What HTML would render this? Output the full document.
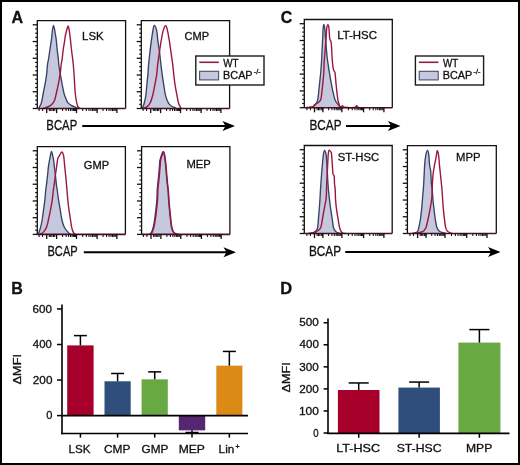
<!DOCTYPE html>
<html><head><meta charset="utf-8"><style>
html,body{margin:0;padding:0;background:#fff;}
svg{display:block;will-change:transform;}
text{font-family:"Liberation Sans", sans-serif;fill:#111;stroke:#111;stroke-width:0.3px;}
</style></head><body>
<svg width="520" height="465" viewBox="0 0 520 465">
<rect x="0" y="0" width="520" height="465" fill="#fff"/>
<path d="M38.50,108.50 C38.65,108.25 38.92,107.97 39.40,107.00 C39.88,106.03 40.75,105.03 41.40,102.70 C42.05,100.37 42.67,96.22 43.30,93.00 C43.93,89.78 44.63,86.62 45.20,83.40 C45.77,80.18 46.32,76.85 46.70,73.70 C47.08,70.55 47.18,67.00 47.50,64.50 C47.82,62.00 48.18,61.28 48.60,58.70 C49.02,56.12 49.52,52.22 50.00,49.00 C50.48,45.78 51.08,42.62 51.50,39.40 C51.92,36.18 52.15,32.05 52.50,29.70 C52.85,27.35 53.25,25.30 53.60,25.30 C53.95,25.30 54.30,28.17 54.60,29.70 C54.90,31.23 55.13,32.88 55.40,34.50 C55.67,36.12 55.92,36.98 56.20,39.40 C56.48,41.82 56.75,45.78 57.10,49.00 C57.45,52.22 58.02,56.12 58.30,58.70 C58.58,61.28 58.48,62.00 58.80,64.50 C59.12,67.00 59.67,70.55 60.20,73.70 C60.73,76.85 61.38,80.18 62.00,83.40 C62.62,86.62 63.30,90.58 63.90,93.00 C64.50,95.42 64.95,96.28 65.60,97.90 C66.25,99.52 66.77,101.42 67.80,102.70 C68.83,103.98 70.48,104.83 71.80,105.60 C73.12,106.37 74.50,106.82 75.70,107.30 C76.90,107.78 78.45,108.30 79.00,108.50 Z" fill="#c6c8dd" stroke="none"/>
<path d="M38.50,108.50 C38.65,108.25 38.92,107.97 39.40,107.00 C39.88,106.03 40.75,105.03 41.40,102.70 C42.05,100.37 42.67,96.22 43.30,93.00 C43.93,89.78 44.63,86.62 45.20,83.40 C45.77,80.18 46.32,76.85 46.70,73.70 C47.08,70.55 47.18,67.00 47.50,64.50 C47.82,62.00 48.18,61.28 48.60,58.70 C49.02,56.12 49.52,52.22 50.00,49.00 C50.48,45.78 51.08,42.62 51.50,39.40 C51.92,36.18 52.15,32.05 52.50,29.70 C52.85,27.35 53.25,25.30 53.60,25.30 C53.95,25.30 54.30,28.17 54.60,29.70 C54.90,31.23 55.13,32.88 55.40,34.50 C55.67,36.12 55.92,36.98 56.20,39.40 C56.48,41.82 56.75,45.78 57.10,49.00 C57.45,52.22 58.02,56.12 58.30,58.70 C58.58,61.28 58.48,62.00 58.80,64.50 C59.12,67.00 59.67,70.55 60.20,73.70 C60.73,76.85 61.38,80.18 62.00,83.40 C62.62,86.62 63.30,90.58 63.90,93.00 C64.50,95.42 64.95,96.28 65.60,97.90 C66.25,99.52 66.77,101.42 67.80,102.70 C68.83,103.98 70.48,104.83 71.80,105.60 C73.12,106.37 74.50,106.82 75.70,107.30 C76.90,107.78 78.45,108.30 79.00,108.50" fill="none" stroke="#364268" stroke-width="1.35" stroke-linejoin="round"/>
<path d="M43.00,108.50 C43.77,108.25 46.18,107.63 47.60,107.00 C49.02,106.37 50.37,105.73 51.50,104.70 C52.63,103.67 53.58,102.75 54.40,100.80 C55.22,98.85 55.72,95.90 56.40,93.00 C57.08,90.10 57.87,86.62 58.50,83.40 C59.13,80.18 59.75,76.85 60.20,73.70 C60.65,70.55 60.87,67.00 61.20,64.50 C61.53,62.00 61.85,61.28 62.20,58.70 C62.55,56.12 62.85,52.22 63.30,49.00 C63.75,45.78 64.62,41.33 64.90,39.40 C65.18,37.47 64.68,39.02 65.00,37.40 C65.32,35.78 66.27,31.60 66.80,29.70 C67.33,27.80 67.82,26.00 68.20,26.00 C68.58,26.00 68.73,27.47 69.10,29.70 C69.47,31.93 70.02,36.18 70.40,39.40 C70.78,42.62 71.03,45.78 71.40,49.00 C71.77,52.22 72.28,56.12 72.60,58.70 C72.92,61.28 73.07,62.00 73.30,64.50 C73.53,67.00 73.78,70.55 74.00,73.70 C74.22,76.85 74.40,80.18 74.60,83.40 C74.80,86.62 74.85,89.78 75.20,93.00 C75.55,96.22 76.22,100.37 76.70,102.70 C77.18,105.03 77.47,106.03 78.10,107.00 C78.73,107.97 80.10,108.25 80.50,108.50" fill="none" stroke="#9c1642" stroke-width="1.4" stroke-linejoin="round"/>
<path d="M37.3,108.5 V20.6 H125.6 V108.5" fill="none" stroke="#111" stroke-width="1.3"/>
<line x1="37.3" y1="108.5" x2="125.6" y2="108.5" stroke="#4a1024" stroke-width="1.6"/>
<line x1="32.699999999999996" y1="24.80" x2="37.3" y2="24.80" stroke="#111" stroke-width="1.3"/>
<line x1="35.099999999999994" y1="28.98" x2="37.3" y2="28.98" stroke="#111" stroke-width="1.1"/>
<line x1="35.099999999999994" y1="33.17" x2="37.3" y2="33.17" stroke="#111" stroke-width="1.1"/>
<line x1="35.099999999999994" y1="37.36" x2="37.3" y2="37.36" stroke="#111" stroke-width="1.1"/>
<line x1="32.699999999999996" y1="41.54" x2="37.3" y2="41.54" stroke="#111" stroke-width="1.3"/>
<line x1="35.099999999999994" y1="45.73" x2="37.3" y2="45.73" stroke="#111" stroke-width="1.1"/>
<line x1="35.099999999999994" y1="49.91" x2="37.3" y2="49.91" stroke="#111" stroke-width="1.1"/>
<line x1="35.099999999999994" y1="54.10" x2="37.3" y2="54.10" stroke="#111" stroke-width="1.1"/>
<line x1="32.699999999999996" y1="58.28" x2="37.3" y2="58.28" stroke="#111" stroke-width="1.3"/>
<line x1="35.099999999999994" y1="62.47" x2="37.3" y2="62.47" stroke="#111" stroke-width="1.1"/>
<line x1="35.099999999999994" y1="66.65" x2="37.3" y2="66.65" stroke="#111" stroke-width="1.1"/>
<line x1="35.099999999999994" y1="70.84" x2="37.3" y2="70.84" stroke="#111" stroke-width="1.1"/>
<line x1="32.699999999999996" y1="75.02" x2="37.3" y2="75.02" stroke="#111" stroke-width="1.3"/>
<line x1="35.099999999999994" y1="79.21" x2="37.3" y2="79.21" stroke="#111" stroke-width="1.1"/>
<line x1="35.099999999999994" y1="83.39" x2="37.3" y2="83.39" stroke="#111" stroke-width="1.1"/>
<line x1="35.099999999999994" y1="87.58" x2="37.3" y2="87.58" stroke="#111" stroke-width="1.1"/>
<line x1="32.699999999999996" y1="91.76" x2="37.3" y2="91.76" stroke="#111" stroke-width="1.3"/>
<line x1="35.099999999999994" y1="95.95" x2="37.3" y2="95.95" stroke="#111" stroke-width="1.1"/>
<line x1="35.099999999999994" y1="100.13" x2="37.3" y2="100.13" stroke="#111" stroke-width="1.1"/>
<line x1="35.099999999999994" y1="104.32" x2="37.3" y2="104.32" stroke="#111" stroke-width="1.1"/>
<line x1="32.699999999999996" y1="108.50" x2="37.3" y2="108.50" stroke="#111" stroke-width="1.3"/>
<line x1="46.70" y1="108.5" x2="46.70" y2="113.1" stroke="#111" stroke-width="1.3"/>
<line x1="56.60" y1="108.5" x2="56.60" y2="113.1" stroke="#111" stroke-width="1.3"/>
<line x1="76.50" y1="108.5" x2="76.50" y2="113.1" stroke="#111" stroke-width="1.3"/>
<line x1="97.10" y1="108.5" x2="97.10" y2="113.1" stroke="#111" stroke-width="1.3"/>
<line x1="116.90" y1="108.5" x2="116.90" y2="113.1" stroke="#111" stroke-width="1.3"/>
<line x1="39.10" y1="108.5" x2="39.10" y2="111.1" stroke="#111" stroke-width="1.05"/>
<line x1="42.60" y1="108.5" x2="42.60" y2="111.1" stroke="#111" stroke-width="1.05"/>
<line x1="49.30" y1="108.5" x2="49.30" y2="111.1" stroke="#111" stroke-width="1.05"/>
<line x1="50.70" y1="108.5" x2="50.70" y2="111.1" stroke="#111" stroke-width="1.05"/>
<line x1="52.00" y1="108.5" x2="52.00" y2="111.1" stroke="#111" stroke-width="1.05"/>
<line x1="53.50" y1="108.5" x2="53.50" y2="111.1" stroke="#111" stroke-width="1.05"/>
<line x1="54.80" y1="108.5" x2="54.80" y2="111.1" stroke="#111" stroke-width="1.05"/>
<line x1="62.59" y1="108.5" x2="62.59" y2="111.1" stroke="#111" stroke-width="1.05"/>
<line x1="66.09" y1="108.5" x2="66.09" y2="111.1" stroke="#111" stroke-width="1.05"/>
<line x1="68.58" y1="108.5" x2="68.58" y2="111.1" stroke="#111" stroke-width="1.05"/>
<line x1="70.51" y1="108.5" x2="70.51" y2="111.1" stroke="#111" stroke-width="1.05"/>
<line x1="72.09" y1="108.5" x2="72.09" y2="111.1" stroke="#111" stroke-width="1.05"/>
<line x1="73.42" y1="108.5" x2="73.42" y2="111.1" stroke="#111" stroke-width="1.05"/>
<line x1="74.57" y1="108.5" x2="74.57" y2="111.1" stroke="#111" stroke-width="1.05"/>
<line x1="75.59" y1="108.5" x2="75.59" y2="111.1" stroke="#111" stroke-width="1.05"/>
<line x1="82.70" y1="108.5" x2="82.70" y2="111.1" stroke="#111" stroke-width="1.05"/>
<line x1="86.33" y1="108.5" x2="86.33" y2="111.1" stroke="#111" stroke-width="1.05"/>
<line x1="88.90" y1="108.5" x2="88.90" y2="111.1" stroke="#111" stroke-width="1.05"/>
<line x1="90.90" y1="108.5" x2="90.90" y2="111.1" stroke="#111" stroke-width="1.05"/>
<line x1="92.53" y1="108.5" x2="92.53" y2="111.1" stroke="#111" stroke-width="1.05"/>
<line x1="93.91" y1="108.5" x2="93.91" y2="111.1" stroke="#111" stroke-width="1.05"/>
<line x1="95.10" y1="108.5" x2="95.10" y2="111.1" stroke="#111" stroke-width="1.05"/>
<line x1="96.16" y1="108.5" x2="96.16" y2="111.1" stroke="#111" stroke-width="1.05"/>
<line x1="103.06" y1="108.5" x2="103.06" y2="111.1" stroke="#111" stroke-width="1.05"/>
<line x1="106.55" y1="108.5" x2="106.55" y2="111.1" stroke="#111" stroke-width="1.05"/>
<line x1="109.02" y1="108.5" x2="109.02" y2="111.1" stroke="#111" stroke-width="1.05"/>
<line x1="110.94" y1="108.5" x2="110.94" y2="111.1" stroke="#111" stroke-width="1.05"/>
<line x1="112.51" y1="108.5" x2="112.51" y2="111.1" stroke="#111" stroke-width="1.05"/>
<line x1="113.83" y1="108.5" x2="113.83" y2="111.1" stroke="#111" stroke-width="1.05"/>
<line x1="114.98" y1="108.5" x2="114.98" y2="111.1" stroke="#111" stroke-width="1.05"/>
<line x1="115.99" y1="108.5" x2="115.99" y2="111.1" stroke="#111" stroke-width="1.05"/>
<text x="82.06" y="40.29" font-size="11.31" textLength="21.59" lengthAdjust="spacingAndGlyphs">LSK</text>
<path d="M141.80,108.50 C141.93,108.32 142.20,108.28 142.60,107.40 C143.00,106.52 143.67,105.15 144.20,103.20 C144.73,101.25 145.37,98.70 145.80,95.70 C146.23,92.70 146.45,88.72 146.80,85.20 C147.15,81.68 147.60,78.07 147.90,74.60 C148.20,71.13 148.25,68.22 148.60,64.40 C148.95,60.58 149.55,55.57 150.00,51.70 C150.45,47.83 150.82,44.72 151.30,41.20 C151.78,37.68 152.42,33.25 152.90,30.60 C153.38,27.95 153.57,25.30 154.20,25.30 C154.83,25.30 156.08,27.95 156.70,30.60 C157.32,33.25 157.43,37.68 157.90,41.20 C158.37,44.72 159.00,47.83 159.50,51.70 C160.00,55.57 160.45,60.58 160.90,64.40 C161.35,68.22 161.72,71.13 162.20,74.60 C162.68,78.07 163.23,81.68 163.80,85.20 C164.37,88.72 164.82,92.70 165.60,95.70 C166.38,98.70 167.48,101.43 168.50,103.20 C169.52,104.97 170.63,105.57 171.70,106.30 C172.77,107.03 174.18,107.23 174.90,107.60 C175.62,107.97 175.82,108.35 176.00,108.50 Z" fill="#c6c8dd" stroke="none"/>
<path d="M141.80,108.50 C141.93,108.32 142.20,108.28 142.60,107.40 C143.00,106.52 143.67,105.15 144.20,103.20 C144.73,101.25 145.37,98.70 145.80,95.70 C146.23,92.70 146.45,88.72 146.80,85.20 C147.15,81.68 147.60,78.07 147.90,74.60 C148.20,71.13 148.25,68.22 148.60,64.40 C148.95,60.58 149.55,55.57 150.00,51.70 C150.45,47.83 150.82,44.72 151.30,41.20 C151.78,37.68 152.42,33.25 152.90,30.60 C153.38,27.95 153.57,25.30 154.20,25.30 C154.83,25.30 156.08,27.95 156.70,30.60 C157.32,33.25 157.43,37.68 157.90,41.20 C158.37,44.72 159.00,47.83 159.50,51.70 C160.00,55.57 160.45,60.58 160.90,64.40 C161.35,68.22 161.72,71.13 162.20,74.60 C162.68,78.07 163.23,81.68 163.80,85.20 C164.37,88.72 164.82,92.70 165.60,95.70 C166.38,98.70 167.48,101.43 168.50,103.20 C169.52,104.97 170.63,105.57 171.70,106.30 C172.77,107.03 174.18,107.23 174.90,107.60 C175.62,107.97 175.82,108.35 176.00,108.50" fill="none" stroke="#364268" stroke-width="1.35" stroke-linejoin="round"/>
<path d="M143.00,108.50 C143.63,108.23 145.63,107.78 146.80,106.90 C147.97,106.02 149.03,105.07 150.00,103.20 C150.97,101.33 151.80,98.70 152.60,95.70 C153.40,92.70 154.12,88.72 154.80,85.20 C155.48,81.68 156.22,78.07 156.70,74.60 C157.18,71.13 157.23,68.22 157.70,64.40 C158.17,60.58 158.93,55.57 159.50,51.70 C160.07,47.83 160.48,44.72 161.10,41.20 C161.72,37.68 162.43,33.17 163.20,30.60 C163.97,28.03 164.98,25.80 165.70,25.80 C166.42,25.80 166.88,28.03 167.50,30.60 C168.12,33.17 168.83,37.68 169.40,41.20 C169.97,44.72 170.35,47.83 170.90,51.70 C171.45,55.57 172.22,60.58 172.70,64.40 C173.18,68.22 173.40,71.13 173.80,74.60 C174.20,78.07 174.57,81.68 175.10,85.20 C175.63,88.72 176.42,92.70 177.00,95.70 C177.58,98.70 178.07,101.33 178.60,103.20 C179.13,105.07 179.77,106.02 180.20,106.90 C180.63,107.78 181.03,108.23 181.20,108.50" fill="none" stroke="#9c1642" stroke-width="1.4" stroke-linejoin="round"/>
<path d="M141.3,108.5 V20.6 H229.6 V108.5" fill="none" stroke="#111" stroke-width="1.3"/>
<line x1="141.3" y1="108.5" x2="229.6" y2="108.5" stroke="#4a1024" stroke-width="1.6"/>
<line x1="136.70000000000002" y1="24.80" x2="141.3" y2="24.80" stroke="#111" stroke-width="1.3"/>
<line x1="139.10000000000002" y1="28.98" x2="141.3" y2="28.98" stroke="#111" stroke-width="1.1"/>
<line x1="139.10000000000002" y1="33.17" x2="141.3" y2="33.17" stroke="#111" stroke-width="1.1"/>
<line x1="139.10000000000002" y1="37.36" x2="141.3" y2="37.36" stroke="#111" stroke-width="1.1"/>
<line x1="136.70000000000002" y1="41.54" x2="141.3" y2="41.54" stroke="#111" stroke-width="1.3"/>
<line x1="139.10000000000002" y1="45.73" x2="141.3" y2="45.73" stroke="#111" stroke-width="1.1"/>
<line x1="139.10000000000002" y1="49.91" x2="141.3" y2="49.91" stroke="#111" stroke-width="1.1"/>
<line x1="139.10000000000002" y1="54.10" x2="141.3" y2="54.10" stroke="#111" stroke-width="1.1"/>
<line x1="136.70000000000002" y1="58.28" x2="141.3" y2="58.28" stroke="#111" stroke-width="1.3"/>
<line x1="139.10000000000002" y1="62.47" x2="141.3" y2="62.47" stroke="#111" stroke-width="1.1"/>
<line x1="139.10000000000002" y1="66.65" x2="141.3" y2="66.65" stroke="#111" stroke-width="1.1"/>
<line x1="139.10000000000002" y1="70.84" x2="141.3" y2="70.84" stroke="#111" stroke-width="1.1"/>
<line x1="136.70000000000002" y1="75.02" x2="141.3" y2="75.02" stroke="#111" stroke-width="1.3"/>
<line x1="139.10000000000002" y1="79.21" x2="141.3" y2="79.21" stroke="#111" stroke-width="1.1"/>
<line x1="139.10000000000002" y1="83.39" x2="141.3" y2="83.39" stroke="#111" stroke-width="1.1"/>
<line x1="139.10000000000002" y1="87.58" x2="141.3" y2="87.58" stroke="#111" stroke-width="1.1"/>
<line x1="136.70000000000002" y1="91.76" x2="141.3" y2="91.76" stroke="#111" stroke-width="1.3"/>
<line x1="139.10000000000002" y1="95.95" x2="141.3" y2="95.95" stroke="#111" stroke-width="1.1"/>
<line x1="139.10000000000002" y1="100.13" x2="141.3" y2="100.13" stroke="#111" stroke-width="1.1"/>
<line x1="139.10000000000002" y1="104.32" x2="141.3" y2="104.32" stroke="#111" stroke-width="1.1"/>
<line x1="136.70000000000002" y1="108.50" x2="141.3" y2="108.50" stroke="#111" stroke-width="1.3"/>
<line x1="150.70" y1="108.5" x2="150.70" y2="113.1" stroke="#111" stroke-width="1.3"/>
<line x1="160.60" y1="108.5" x2="160.60" y2="113.1" stroke="#111" stroke-width="1.3"/>
<line x1="180.50" y1="108.5" x2="180.50" y2="113.1" stroke="#111" stroke-width="1.3"/>
<line x1="201.10" y1="108.5" x2="201.10" y2="113.1" stroke="#111" stroke-width="1.3"/>
<line x1="220.90" y1="108.5" x2="220.90" y2="113.1" stroke="#111" stroke-width="1.3"/>
<line x1="143.10" y1="108.5" x2="143.10" y2="111.1" stroke="#111" stroke-width="1.05"/>
<line x1="146.60" y1="108.5" x2="146.60" y2="111.1" stroke="#111" stroke-width="1.05"/>
<line x1="153.30" y1="108.5" x2="153.30" y2="111.1" stroke="#111" stroke-width="1.05"/>
<line x1="154.70" y1="108.5" x2="154.70" y2="111.1" stroke="#111" stroke-width="1.05"/>
<line x1="156.00" y1="108.5" x2="156.00" y2="111.1" stroke="#111" stroke-width="1.05"/>
<line x1="157.50" y1="108.5" x2="157.50" y2="111.1" stroke="#111" stroke-width="1.05"/>
<line x1="158.80" y1="108.5" x2="158.80" y2="111.1" stroke="#111" stroke-width="1.05"/>
<line x1="166.59" y1="108.5" x2="166.59" y2="111.1" stroke="#111" stroke-width="1.05"/>
<line x1="170.09" y1="108.5" x2="170.09" y2="111.1" stroke="#111" stroke-width="1.05"/>
<line x1="172.58" y1="108.5" x2="172.58" y2="111.1" stroke="#111" stroke-width="1.05"/>
<line x1="174.51" y1="108.5" x2="174.51" y2="111.1" stroke="#111" stroke-width="1.05"/>
<line x1="176.09" y1="108.5" x2="176.09" y2="111.1" stroke="#111" stroke-width="1.05"/>
<line x1="177.42" y1="108.5" x2="177.42" y2="111.1" stroke="#111" stroke-width="1.05"/>
<line x1="178.57" y1="108.5" x2="178.57" y2="111.1" stroke="#111" stroke-width="1.05"/>
<line x1="179.59" y1="108.5" x2="179.59" y2="111.1" stroke="#111" stroke-width="1.05"/>
<line x1="186.70" y1="108.5" x2="186.70" y2="111.1" stroke="#111" stroke-width="1.05"/>
<line x1="190.33" y1="108.5" x2="190.33" y2="111.1" stroke="#111" stroke-width="1.05"/>
<line x1="192.90" y1="108.5" x2="192.90" y2="111.1" stroke="#111" stroke-width="1.05"/>
<line x1="194.90" y1="108.5" x2="194.90" y2="111.1" stroke="#111" stroke-width="1.05"/>
<line x1="196.53" y1="108.5" x2="196.53" y2="111.1" stroke="#111" stroke-width="1.05"/>
<line x1="197.91" y1="108.5" x2="197.91" y2="111.1" stroke="#111" stroke-width="1.05"/>
<line x1="199.10" y1="108.5" x2="199.10" y2="111.1" stroke="#111" stroke-width="1.05"/>
<line x1="200.16" y1="108.5" x2="200.16" y2="111.1" stroke="#111" stroke-width="1.05"/>
<line x1="207.06" y1="108.5" x2="207.06" y2="111.1" stroke="#111" stroke-width="1.05"/>
<line x1="210.55" y1="108.5" x2="210.55" y2="111.1" stroke="#111" stroke-width="1.05"/>
<line x1="213.02" y1="108.5" x2="213.02" y2="111.1" stroke="#111" stroke-width="1.05"/>
<line x1="214.94" y1="108.5" x2="214.94" y2="111.1" stroke="#111" stroke-width="1.05"/>
<line x1="216.51" y1="108.5" x2="216.51" y2="111.1" stroke="#111" stroke-width="1.05"/>
<line x1="217.83" y1="108.5" x2="217.83" y2="111.1" stroke="#111" stroke-width="1.05"/>
<line x1="218.98" y1="108.5" x2="218.98" y2="111.1" stroke="#111" stroke-width="1.05"/>
<line x1="219.99" y1="108.5" x2="219.99" y2="111.1" stroke="#111" stroke-width="1.05"/>
<text x="184.55" y="40.29" font-size="11.31" textLength="24.53" lengthAdjust="spacingAndGlyphs">CMP</text>
<path d="M38.00,234.40 C38.15,234.10 38.45,233.87 38.90,232.60 C39.35,231.33 40.13,229.07 40.70,226.80 C41.27,224.53 41.82,221.90 42.30,219.00 C42.78,216.10 43.17,212.62 43.60,209.40 C44.03,206.18 44.55,202.85 44.90,199.70 C45.25,196.55 45.43,193.00 45.70,190.50 C45.97,188.00 46.18,187.28 46.50,184.70 C46.82,182.12 47.25,178.22 47.60,175.00 C47.95,171.78 48.13,168.62 48.60,165.40 C49.07,162.18 49.92,158.05 50.40,155.70 C50.88,153.35 51.12,151.30 51.50,151.30 C51.88,151.30 52.33,154.17 52.70,155.70 C53.07,157.23 53.45,158.88 53.70,160.50 C53.95,162.12 53.92,162.98 54.20,165.40 C54.48,167.82 55.03,171.78 55.40,175.00 C55.77,178.22 56.08,182.12 56.40,184.70 C56.72,187.28 56.95,188.00 57.30,190.50 C57.65,193.00 58.02,196.55 58.50,199.70 C58.98,202.85 59.67,206.18 60.20,209.40 C60.73,212.62 61.05,216.10 61.70,219.00 C62.35,221.90 63.13,224.70 64.10,226.80 C65.07,228.90 66.43,230.33 67.50,231.60 C68.57,232.87 70.00,233.93 70.50,234.40 Z" fill="#c6c8dd" stroke="none"/>
<path d="M38.00,234.40 C38.15,234.10 38.45,233.87 38.90,232.60 C39.35,231.33 40.13,229.07 40.70,226.80 C41.27,224.53 41.82,221.90 42.30,219.00 C42.78,216.10 43.17,212.62 43.60,209.40 C44.03,206.18 44.55,202.85 44.90,199.70 C45.25,196.55 45.43,193.00 45.70,190.50 C45.97,188.00 46.18,187.28 46.50,184.70 C46.82,182.12 47.25,178.22 47.60,175.00 C47.95,171.78 48.13,168.62 48.60,165.40 C49.07,162.18 49.92,158.05 50.40,155.70 C50.88,153.35 51.12,151.30 51.50,151.30 C51.88,151.30 52.33,154.17 52.70,155.70 C53.07,157.23 53.45,158.88 53.70,160.50 C53.95,162.12 53.92,162.98 54.20,165.40 C54.48,167.82 55.03,171.78 55.40,175.00 C55.77,178.22 56.08,182.12 56.40,184.70 C56.72,187.28 56.95,188.00 57.30,190.50 C57.65,193.00 58.02,196.55 58.50,199.70 C58.98,202.85 59.67,206.18 60.20,209.40 C60.73,212.62 61.05,216.10 61.70,219.00 C62.35,221.90 63.13,224.70 64.10,226.80 C65.07,228.90 66.43,230.33 67.50,231.60 C68.57,232.87 70.00,233.93 70.50,234.40" fill="none" stroke="#364268" stroke-width="1.35" stroke-linejoin="round"/>
<path d="M40.00,234.40 C40.63,233.93 42.68,232.87 43.80,231.60 C44.92,230.33 45.90,228.90 46.70,226.80 C47.50,224.70 47.95,221.90 48.60,219.00 C49.25,216.10 49.98,212.62 50.60,209.40 C51.22,206.18 51.85,202.85 52.30,199.70 C52.75,196.55 52.98,193.00 53.30,190.50 C53.62,188.00 53.85,187.28 54.20,184.70 C54.55,182.12 54.97,178.22 55.40,175.00 C55.83,171.78 56.40,168.13 56.80,165.40 C57.20,162.67 57.35,160.22 57.80,158.60 C58.25,156.98 58.85,156.80 59.50,155.70 C60.15,154.60 61.02,152.00 61.70,152.00 C62.38,152.00 63.12,153.47 63.60,155.70 C64.08,157.93 64.27,162.18 64.60,165.40 C64.93,168.62 65.28,171.78 65.60,175.00 C65.92,178.22 66.27,182.12 66.50,184.70 C66.73,187.28 66.78,188.00 67.00,190.50 C67.22,193.00 67.48,196.55 67.80,199.70 C68.12,202.85 68.47,206.18 68.90,209.40 C69.33,212.62 69.95,216.10 70.40,219.00 C70.85,221.90 71.17,224.70 71.60,226.80 C72.03,228.90 72.43,230.33 73.00,231.60 C73.57,232.87 74.67,233.93 75.00,234.40" fill="none" stroke="#9c1642" stroke-width="1.4" stroke-linejoin="round"/>
<path d="M37.3,234.4 V146.6 H125.4 V234.4" fill="none" stroke="#111" stroke-width="1.3"/>
<line x1="37.3" y1="234.4" x2="125.4" y2="234.4" stroke="#4a1024" stroke-width="1.6"/>
<line x1="32.699999999999996" y1="150.80" x2="37.3" y2="150.80" stroke="#111" stroke-width="1.3"/>
<line x1="35.099999999999994" y1="154.98" x2="37.3" y2="154.98" stroke="#111" stroke-width="1.1"/>
<line x1="35.099999999999994" y1="159.16" x2="37.3" y2="159.16" stroke="#111" stroke-width="1.1"/>
<line x1="35.099999999999994" y1="163.34" x2="37.3" y2="163.34" stroke="#111" stroke-width="1.1"/>
<line x1="32.699999999999996" y1="167.52" x2="37.3" y2="167.52" stroke="#111" stroke-width="1.3"/>
<line x1="35.099999999999994" y1="171.70" x2="37.3" y2="171.70" stroke="#111" stroke-width="1.1"/>
<line x1="35.099999999999994" y1="175.88" x2="37.3" y2="175.88" stroke="#111" stroke-width="1.1"/>
<line x1="35.099999999999994" y1="180.06" x2="37.3" y2="180.06" stroke="#111" stroke-width="1.1"/>
<line x1="32.699999999999996" y1="184.24" x2="37.3" y2="184.24" stroke="#111" stroke-width="1.3"/>
<line x1="35.099999999999994" y1="188.42" x2="37.3" y2="188.42" stroke="#111" stroke-width="1.1"/>
<line x1="35.099999999999994" y1="192.60" x2="37.3" y2="192.60" stroke="#111" stroke-width="1.1"/>
<line x1="35.099999999999994" y1="196.78" x2="37.3" y2="196.78" stroke="#111" stroke-width="1.1"/>
<line x1="32.699999999999996" y1="200.96" x2="37.3" y2="200.96" stroke="#111" stroke-width="1.3"/>
<line x1="35.099999999999994" y1="205.14" x2="37.3" y2="205.14" stroke="#111" stroke-width="1.1"/>
<line x1="35.099999999999994" y1="209.32" x2="37.3" y2="209.32" stroke="#111" stroke-width="1.1"/>
<line x1="35.099999999999994" y1="213.50" x2="37.3" y2="213.50" stroke="#111" stroke-width="1.1"/>
<line x1="32.699999999999996" y1="217.68" x2="37.3" y2="217.68" stroke="#111" stroke-width="1.3"/>
<line x1="35.099999999999994" y1="221.86" x2="37.3" y2="221.86" stroke="#111" stroke-width="1.1"/>
<line x1="35.099999999999994" y1="226.04" x2="37.3" y2="226.04" stroke="#111" stroke-width="1.1"/>
<line x1="35.099999999999994" y1="230.22" x2="37.3" y2="230.22" stroke="#111" stroke-width="1.1"/>
<line x1="32.699999999999996" y1="234.40" x2="37.3" y2="234.40" stroke="#111" stroke-width="1.3"/>
<line x1="46.70" y1="234.4" x2="46.70" y2="239.0" stroke="#111" stroke-width="1.3"/>
<line x1="56.60" y1="234.4" x2="56.60" y2="239.0" stroke="#111" stroke-width="1.3"/>
<line x1="76.50" y1="234.4" x2="76.50" y2="239.0" stroke="#111" stroke-width="1.3"/>
<line x1="97.10" y1="234.4" x2="97.10" y2="239.0" stroke="#111" stroke-width="1.3"/>
<line x1="116.90" y1="234.4" x2="116.90" y2="239.0" stroke="#111" stroke-width="1.3"/>
<line x1="39.10" y1="234.4" x2="39.10" y2="237.0" stroke="#111" stroke-width="1.05"/>
<line x1="42.60" y1="234.4" x2="42.60" y2="237.0" stroke="#111" stroke-width="1.05"/>
<line x1="49.30" y1="234.4" x2="49.30" y2="237.0" stroke="#111" stroke-width="1.05"/>
<line x1="50.70" y1="234.4" x2="50.70" y2="237.0" stroke="#111" stroke-width="1.05"/>
<line x1="52.00" y1="234.4" x2="52.00" y2="237.0" stroke="#111" stroke-width="1.05"/>
<line x1="53.50" y1="234.4" x2="53.50" y2="237.0" stroke="#111" stroke-width="1.05"/>
<line x1="54.80" y1="234.4" x2="54.80" y2="237.0" stroke="#111" stroke-width="1.05"/>
<line x1="62.59" y1="234.4" x2="62.59" y2="237.0" stroke="#111" stroke-width="1.05"/>
<line x1="66.09" y1="234.4" x2="66.09" y2="237.0" stroke="#111" stroke-width="1.05"/>
<line x1="68.58" y1="234.4" x2="68.58" y2="237.0" stroke="#111" stroke-width="1.05"/>
<line x1="70.51" y1="234.4" x2="70.51" y2="237.0" stroke="#111" stroke-width="1.05"/>
<line x1="72.09" y1="234.4" x2="72.09" y2="237.0" stroke="#111" stroke-width="1.05"/>
<line x1="73.42" y1="234.4" x2="73.42" y2="237.0" stroke="#111" stroke-width="1.05"/>
<line x1="74.57" y1="234.4" x2="74.57" y2="237.0" stroke="#111" stroke-width="1.05"/>
<line x1="75.59" y1="234.4" x2="75.59" y2="237.0" stroke="#111" stroke-width="1.05"/>
<line x1="82.70" y1="234.4" x2="82.70" y2="237.0" stroke="#111" stroke-width="1.05"/>
<line x1="86.33" y1="234.4" x2="86.33" y2="237.0" stroke="#111" stroke-width="1.05"/>
<line x1="88.90" y1="234.4" x2="88.90" y2="237.0" stroke="#111" stroke-width="1.05"/>
<line x1="90.90" y1="234.4" x2="90.90" y2="237.0" stroke="#111" stroke-width="1.05"/>
<line x1="92.53" y1="234.4" x2="92.53" y2="237.0" stroke="#111" stroke-width="1.05"/>
<line x1="93.91" y1="234.4" x2="93.91" y2="237.0" stroke="#111" stroke-width="1.05"/>
<line x1="95.10" y1="234.4" x2="95.10" y2="237.0" stroke="#111" stroke-width="1.05"/>
<line x1="96.16" y1="234.4" x2="96.16" y2="237.0" stroke="#111" stroke-width="1.05"/>
<line x1="103.06" y1="234.4" x2="103.06" y2="237.0" stroke="#111" stroke-width="1.05"/>
<line x1="106.55" y1="234.4" x2="106.55" y2="237.0" stroke="#111" stroke-width="1.05"/>
<line x1="109.02" y1="234.4" x2="109.02" y2="237.0" stroke="#111" stroke-width="1.05"/>
<line x1="110.94" y1="234.4" x2="110.94" y2="237.0" stroke="#111" stroke-width="1.05"/>
<line x1="112.51" y1="234.4" x2="112.51" y2="237.0" stroke="#111" stroke-width="1.05"/>
<line x1="113.83" y1="234.4" x2="113.83" y2="237.0" stroke="#111" stroke-width="1.05"/>
<line x1="114.98" y1="234.4" x2="114.98" y2="237.0" stroke="#111" stroke-width="1.05"/>
<line x1="115.99" y1="234.4" x2="115.99" y2="237.0" stroke="#111" stroke-width="1.05"/>
<text x="83.85" y="168.59" font-size="10.74" textLength="25.24" lengthAdjust="spacingAndGlyphs">GMP</text>
<path d="M149.50,234.40 C149.83,234.03 150.87,233.47 151.50,232.20 C152.13,230.93 152.77,229.00 153.30,226.80 C153.83,224.60 154.27,221.90 154.70,219.00 C155.13,216.10 155.53,212.62 155.90,209.40 C156.27,206.18 156.68,202.85 156.90,199.70 C157.12,196.55 157.07,193.00 157.20,190.50 C157.33,188.00 157.45,187.28 157.70,184.70 C157.95,182.12 158.40,178.22 158.70,175.00 C159.00,171.78 159.30,167.82 159.50,165.40 C159.70,162.98 159.60,162.12 159.90,160.50 C160.20,158.88 160.78,157.18 161.30,155.70 C161.82,154.22 162.48,151.60 163.00,151.60 C163.52,151.60 163.97,153.40 164.40,155.70 C164.83,158.00 165.27,162.18 165.60,165.40 C165.93,168.62 166.12,171.78 166.40,175.00 C166.68,178.22 167.03,182.12 167.30,184.70 C167.57,187.28 167.78,188.00 168.00,190.50 C168.22,193.00 168.37,196.55 168.60,199.70 C168.83,202.85 169.10,206.18 169.40,209.40 C169.70,212.62 170.07,216.10 170.40,219.00 C170.73,221.90 170.90,224.57 171.40,226.80 C171.90,229.03 172.38,231.13 173.40,232.40 C174.42,233.67 176.82,234.07 177.50,234.40 Z" fill="#c6c8dd" stroke="none"/>
<path d="M149.50,234.40 C149.83,234.03 150.87,233.47 151.50,232.20 C152.13,230.93 152.77,229.00 153.30,226.80 C153.83,224.60 154.27,221.90 154.70,219.00 C155.13,216.10 155.53,212.62 155.90,209.40 C156.27,206.18 156.68,202.85 156.90,199.70 C157.12,196.55 157.07,193.00 157.20,190.50 C157.33,188.00 157.45,187.28 157.70,184.70 C157.95,182.12 158.40,178.22 158.70,175.00 C159.00,171.78 159.30,167.82 159.50,165.40 C159.70,162.98 159.60,162.12 159.90,160.50 C160.20,158.88 160.78,157.18 161.30,155.70 C161.82,154.22 162.48,151.60 163.00,151.60 C163.52,151.60 163.97,153.40 164.40,155.70 C164.83,158.00 165.27,162.18 165.60,165.40 C165.93,168.62 166.12,171.78 166.40,175.00 C166.68,178.22 167.03,182.12 167.30,184.70 C167.57,187.28 167.78,188.00 168.00,190.50 C168.22,193.00 168.37,196.55 168.60,199.70 C168.83,202.85 169.10,206.18 169.40,209.40 C169.70,212.62 170.07,216.10 170.40,219.00 C170.73,221.90 170.90,224.57 171.40,226.80 C171.90,229.03 172.38,231.13 173.40,232.40 C174.42,233.67 176.82,234.07 177.50,234.40" fill="none" stroke="#364268" stroke-width="1.35" stroke-linejoin="round"/>
<path d="M150.00,234.40 C150.37,234.03 151.53,233.47 152.20,232.20 C152.87,230.93 153.47,229.00 154.00,226.80 C154.53,224.60 154.97,221.90 155.40,219.00 C155.83,216.10 156.23,212.62 156.60,209.40 C156.97,206.18 157.38,202.85 157.60,199.70 C157.82,196.55 157.77,193.00 157.90,190.50 C158.03,188.00 158.15,187.28 158.40,184.70 C158.65,182.12 159.10,178.22 159.40,175.00 C159.70,171.78 160.00,167.82 160.20,165.40 C160.40,162.98 160.30,162.12 160.60,160.50 C160.90,158.88 161.52,157.15 162.00,155.70 C162.48,154.25 163.03,151.80 163.50,151.80 C163.97,151.80 164.38,153.43 164.80,155.70 C165.22,157.97 165.67,162.18 166.00,165.40 C166.33,168.62 166.52,171.78 166.80,175.00 C167.08,178.22 167.43,182.12 167.70,184.70 C167.97,187.28 168.18,188.00 168.40,190.50 C168.62,193.00 168.77,196.55 169.00,199.70 C169.23,202.85 169.50,206.18 169.80,209.40 C170.10,212.62 170.47,216.10 170.80,219.00 C171.13,221.90 171.30,224.57 171.80,226.80 C172.30,229.03 172.77,231.13 173.80,232.40 C174.83,233.67 177.30,234.07 178.00,234.40" fill="none" stroke="#9c1642" stroke-width="1.4" stroke-linejoin="round"/>
<path d="M141.6,234.4 V146.6 H229.9 V234.4" fill="none" stroke="#111" stroke-width="1.3"/>
<line x1="141.6" y1="234.4" x2="229.9" y2="234.4" stroke="#4a1024" stroke-width="1.6"/>
<line x1="137.0" y1="150.80" x2="141.6" y2="150.80" stroke="#111" stroke-width="1.3"/>
<line x1="139.4" y1="154.98" x2="141.6" y2="154.98" stroke="#111" stroke-width="1.1"/>
<line x1="139.4" y1="159.16" x2="141.6" y2="159.16" stroke="#111" stroke-width="1.1"/>
<line x1="139.4" y1="163.34" x2="141.6" y2="163.34" stroke="#111" stroke-width="1.1"/>
<line x1="137.0" y1="167.52" x2="141.6" y2="167.52" stroke="#111" stroke-width="1.3"/>
<line x1="139.4" y1="171.70" x2="141.6" y2="171.70" stroke="#111" stroke-width="1.1"/>
<line x1="139.4" y1="175.88" x2="141.6" y2="175.88" stroke="#111" stroke-width="1.1"/>
<line x1="139.4" y1="180.06" x2="141.6" y2="180.06" stroke="#111" stroke-width="1.1"/>
<line x1="137.0" y1="184.24" x2="141.6" y2="184.24" stroke="#111" stroke-width="1.3"/>
<line x1="139.4" y1="188.42" x2="141.6" y2="188.42" stroke="#111" stroke-width="1.1"/>
<line x1="139.4" y1="192.60" x2="141.6" y2="192.60" stroke="#111" stroke-width="1.1"/>
<line x1="139.4" y1="196.78" x2="141.6" y2="196.78" stroke="#111" stroke-width="1.1"/>
<line x1="137.0" y1="200.96" x2="141.6" y2="200.96" stroke="#111" stroke-width="1.3"/>
<line x1="139.4" y1="205.14" x2="141.6" y2="205.14" stroke="#111" stroke-width="1.1"/>
<line x1="139.4" y1="209.32" x2="141.6" y2="209.32" stroke="#111" stroke-width="1.1"/>
<line x1="139.4" y1="213.50" x2="141.6" y2="213.50" stroke="#111" stroke-width="1.1"/>
<line x1="137.0" y1="217.68" x2="141.6" y2="217.68" stroke="#111" stroke-width="1.3"/>
<line x1="139.4" y1="221.86" x2="141.6" y2="221.86" stroke="#111" stroke-width="1.1"/>
<line x1="139.4" y1="226.04" x2="141.6" y2="226.04" stroke="#111" stroke-width="1.1"/>
<line x1="139.4" y1="230.22" x2="141.6" y2="230.22" stroke="#111" stroke-width="1.1"/>
<line x1="137.0" y1="234.40" x2="141.6" y2="234.40" stroke="#111" stroke-width="1.3"/>
<line x1="151.00" y1="234.4" x2="151.00" y2="239.0" stroke="#111" stroke-width="1.3"/>
<line x1="160.90" y1="234.4" x2="160.90" y2="239.0" stroke="#111" stroke-width="1.3"/>
<line x1="180.80" y1="234.4" x2="180.80" y2="239.0" stroke="#111" stroke-width="1.3"/>
<line x1="201.40" y1="234.4" x2="201.40" y2="239.0" stroke="#111" stroke-width="1.3"/>
<line x1="221.20" y1="234.4" x2="221.20" y2="239.0" stroke="#111" stroke-width="1.3"/>
<line x1="143.40" y1="234.4" x2="143.40" y2="237.0" stroke="#111" stroke-width="1.05"/>
<line x1="146.90" y1="234.4" x2="146.90" y2="237.0" stroke="#111" stroke-width="1.05"/>
<line x1="153.60" y1="234.4" x2="153.60" y2="237.0" stroke="#111" stroke-width="1.05"/>
<line x1="155.00" y1="234.4" x2="155.00" y2="237.0" stroke="#111" stroke-width="1.05"/>
<line x1="156.30" y1="234.4" x2="156.30" y2="237.0" stroke="#111" stroke-width="1.05"/>
<line x1="157.80" y1="234.4" x2="157.80" y2="237.0" stroke="#111" stroke-width="1.05"/>
<line x1="159.10" y1="234.4" x2="159.10" y2="237.0" stroke="#111" stroke-width="1.05"/>
<line x1="166.89" y1="234.4" x2="166.89" y2="237.0" stroke="#111" stroke-width="1.05"/>
<line x1="170.39" y1="234.4" x2="170.39" y2="237.0" stroke="#111" stroke-width="1.05"/>
<line x1="172.88" y1="234.4" x2="172.88" y2="237.0" stroke="#111" stroke-width="1.05"/>
<line x1="174.81" y1="234.4" x2="174.81" y2="237.0" stroke="#111" stroke-width="1.05"/>
<line x1="176.39" y1="234.4" x2="176.39" y2="237.0" stroke="#111" stroke-width="1.05"/>
<line x1="177.72" y1="234.4" x2="177.72" y2="237.0" stroke="#111" stroke-width="1.05"/>
<line x1="178.87" y1="234.4" x2="178.87" y2="237.0" stroke="#111" stroke-width="1.05"/>
<line x1="179.89" y1="234.4" x2="179.89" y2="237.0" stroke="#111" stroke-width="1.05"/>
<line x1="187.00" y1="234.4" x2="187.00" y2="237.0" stroke="#111" stroke-width="1.05"/>
<line x1="190.63" y1="234.4" x2="190.63" y2="237.0" stroke="#111" stroke-width="1.05"/>
<line x1="193.20" y1="234.4" x2="193.20" y2="237.0" stroke="#111" stroke-width="1.05"/>
<line x1="195.20" y1="234.4" x2="195.20" y2="237.0" stroke="#111" stroke-width="1.05"/>
<line x1="196.83" y1="234.4" x2="196.83" y2="237.0" stroke="#111" stroke-width="1.05"/>
<line x1="198.21" y1="234.4" x2="198.21" y2="237.0" stroke="#111" stroke-width="1.05"/>
<line x1="199.40" y1="234.4" x2="199.40" y2="237.0" stroke="#111" stroke-width="1.05"/>
<line x1="200.46" y1="234.4" x2="200.46" y2="237.0" stroke="#111" stroke-width="1.05"/>
<line x1="207.36" y1="234.4" x2="207.36" y2="237.0" stroke="#111" stroke-width="1.05"/>
<line x1="210.85" y1="234.4" x2="210.85" y2="237.0" stroke="#111" stroke-width="1.05"/>
<line x1="213.32" y1="234.4" x2="213.32" y2="237.0" stroke="#111" stroke-width="1.05"/>
<line x1="215.24" y1="234.4" x2="215.24" y2="237.0" stroke="#111" stroke-width="1.05"/>
<line x1="216.81" y1="234.4" x2="216.81" y2="237.0" stroke="#111" stroke-width="1.05"/>
<line x1="218.13" y1="234.4" x2="218.13" y2="237.0" stroke="#111" stroke-width="1.05"/>
<line x1="219.28" y1="234.4" x2="219.28" y2="237.0" stroke="#111" stroke-width="1.05"/>
<line x1="220.29" y1="234.4" x2="220.29" y2="237.0" stroke="#111" stroke-width="1.05"/>
<text x="186.47" y="168.40" font-size="11.64" textLength="24.31" lengthAdjust="spacingAndGlyphs">MEP</text>
<path d="M309.00,107.70 C309.75,107.50 312.32,107.17 313.50,106.50 C314.68,105.83 315.40,104.82 316.10,103.70 C316.80,102.58 317.27,101.75 317.70,99.80 C318.13,97.85 318.37,94.90 318.70,92.00 C319.03,89.10 319.37,85.62 319.70,82.40 C320.03,79.18 320.42,75.85 320.70,72.70 C320.98,69.55 321.23,66.00 321.40,63.50 C321.57,61.00 321.57,60.28 321.70,57.70 C321.83,55.12 322.03,51.22 322.20,48.00 C322.37,44.78 322.55,41.62 322.70,38.40 C322.85,35.18 322.92,31.05 323.10,28.70 C323.28,26.35 323.52,24.30 323.80,24.30 C324.08,24.30 324.52,26.35 324.80,28.70 C325.08,31.05 325.25,35.18 325.50,38.40 C325.75,41.62 326.02,44.78 326.30,48.00 C326.58,51.22 326.92,55.12 327.20,57.70 C327.48,60.28 327.63,61.00 328.00,63.50 C328.37,66.00 328.88,69.55 329.40,72.70 C329.92,75.85 330.50,79.18 331.10,82.40 C331.70,85.62 332.35,89.10 333.00,92.00 C333.65,94.90 334.27,97.85 335.00,99.80 C335.73,101.75 336.57,102.53 337.40,103.70 C338.23,104.87 338.90,106.13 340.00,106.80 C341.10,107.47 343.33,107.55 344.00,107.70 Z" fill="#c6c8dd" stroke="none"/>
<path d="M309.00,107.70 C309.75,107.50 312.32,107.17 313.50,106.50 C314.68,105.83 315.40,104.82 316.10,103.70 C316.80,102.58 317.27,101.75 317.70,99.80 C318.13,97.85 318.37,94.90 318.70,92.00 C319.03,89.10 319.37,85.62 319.70,82.40 C320.03,79.18 320.42,75.85 320.70,72.70 C320.98,69.55 321.23,66.00 321.40,63.50 C321.57,61.00 321.57,60.28 321.70,57.70 C321.83,55.12 322.03,51.22 322.20,48.00 C322.37,44.78 322.55,41.62 322.70,38.40 C322.85,35.18 322.92,31.05 323.10,28.70 C323.28,26.35 323.52,24.30 323.80,24.30 C324.08,24.30 324.52,26.35 324.80,28.70 C325.08,31.05 325.25,35.18 325.50,38.40 C325.75,41.62 326.02,44.78 326.30,48.00 C326.58,51.22 326.92,55.12 327.20,57.70 C327.48,60.28 327.63,61.00 328.00,63.50 C328.37,66.00 328.88,69.55 329.40,72.70 C329.92,75.85 330.50,79.18 331.10,82.40 C331.70,85.62 332.35,89.10 333.00,92.00 C333.65,94.90 334.27,97.85 335.00,99.80 C335.73,101.75 336.57,102.53 337.40,103.70 C338.23,104.87 338.90,106.13 340.00,106.80 C341.10,107.47 343.33,107.55 344.00,107.70" fill="none" stroke="#364268" stroke-width="1.35" stroke-linejoin="round"/>
<path d="M306.00,107.70 C307.12,107.52 311.27,107.12 312.70,106.60 C314.13,106.08 313.72,105.25 314.60,104.60 C315.48,103.95 316.98,103.50 318.00,102.70 C319.02,101.90 320.05,101.58 320.70,99.80 C321.35,98.02 321.53,94.90 321.90,92.00 C322.27,89.10 322.58,85.62 322.90,82.40 C323.22,79.18 323.60,75.85 323.80,72.70 C324.00,69.55 323.98,66.00 324.10,63.50 C324.22,61.00 324.30,60.28 324.50,57.70 C324.70,55.12 325.03,51.22 325.30,48.00 C325.57,44.78 325.87,41.62 326.10,38.40 C326.33,35.18 326.38,30.97 326.70,28.70 C327.02,26.43 327.62,24.80 328.00,24.80 C328.38,24.80 328.72,26.43 329.00,28.70 C329.28,30.97 329.35,36.15 329.70,38.40 C330.05,40.65 330.78,40.60 331.10,42.20 C331.42,43.80 331.43,45.42 331.60,48.00 C331.77,50.58 331.93,55.12 332.10,57.70 C332.27,60.28 332.37,61.48 332.60,63.50 C332.83,65.52 333.10,68.27 333.50,69.80 C333.90,71.33 334.60,70.60 335.00,72.70 C335.40,74.80 335.58,79.18 335.90,82.40 C336.22,85.62 336.57,89.10 336.90,92.00 C337.23,94.90 337.57,97.85 337.90,99.80 C338.23,101.75 338.58,102.63 338.90,103.70 C339.22,104.77 339.45,105.62 339.80,106.20 C340.15,106.78 340.53,107.30 341.00,107.20 C341.47,107.10 342.05,105.58 342.60,105.60 C343.15,105.62 342.32,106.98 344.30,107.30 C346.28,107.62 352.47,107.77 354.50,107.50 C356.53,107.23 355.87,105.72 356.50,105.70 C357.13,105.68 357.72,107.07 358.30,107.40 C358.88,107.73 359.72,107.65 360.00,107.70" fill="none" stroke="#9c1642" stroke-width="1.4" stroke-linejoin="round"/>
<path d="M304.3,107.7 V19.5 H392.3 V107.7" fill="none" stroke="#111" stroke-width="1.3"/>
<line x1="304.3" y1="107.7" x2="392.3" y2="107.7" stroke="#4a1024" stroke-width="1.6"/>
<line x1="299.7" y1="23.70" x2="304.3" y2="23.70" stroke="#111" stroke-width="1.3"/>
<line x1="302.1" y1="27.90" x2="304.3" y2="27.90" stroke="#111" stroke-width="1.1"/>
<line x1="302.1" y1="32.10" x2="304.3" y2="32.10" stroke="#111" stroke-width="1.1"/>
<line x1="302.1" y1="36.30" x2="304.3" y2="36.30" stroke="#111" stroke-width="1.1"/>
<line x1="299.7" y1="40.50" x2="304.3" y2="40.50" stroke="#111" stroke-width="1.3"/>
<line x1="302.1" y1="44.70" x2="304.3" y2="44.70" stroke="#111" stroke-width="1.1"/>
<line x1="302.1" y1="48.90" x2="304.3" y2="48.90" stroke="#111" stroke-width="1.1"/>
<line x1="302.1" y1="53.10" x2="304.3" y2="53.10" stroke="#111" stroke-width="1.1"/>
<line x1="299.7" y1="57.30" x2="304.3" y2="57.30" stroke="#111" stroke-width="1.3"/>
<line x1="302.1" y1="61.50" x2="304.3" y2="61.50" stroke="#111" stroke-width="1.1"/>
<line x1="302.1" y1="65.70" x2="304.3" y2="65.70" stroke="#111" stroke-width="1.1"/>
<line x1="302.1" y1="69.90" x2="304.3" y2="69.90" stroke="#111" stroke-width="1.1"/>
<line x1="299.7" y1="74.10" x2="304.3" y2="74.10" stroke="#111" stroke-width="1.3"/>
<line x1="302.1" y1="78.30" x2="304.3" y2="78.30" stroke="#111" stroke-width="1.1"/>
<line x1="302.1" y1="82.50" x2="304.3" y2="82.50" stroke="#111" stroke-width="1.1"/>
<line x1="302.1" y1="86.70" x2="304.3" y2="86.70" stroke="#111" stroke-width="1.1"/>
<line x1="299.7" y1="90.90" x2="304.3" y2="90.90" stroke="#111" stroke-width="1.3"/>
<line x1="302.1" y1="95.10" x2="304.3" y2="95.10" stroke="#111" stroke-width="1.1"/>
<line x1="302.1" y1="99.30" x2="304.3" y2="99.30" stroke="#111" stroke-width="1.1"/>
<line x1="302.1" y1="103.50" x2="304.3" y2="103.50" stroke="#111" stroke-width="1.1"/>
<line x1="299.7" y1="107.70" x2="304.3" y2="107.70" stroke="#111" stroke-width="1.3"/>
<line x1="314.50" y1="107.7" x2="314.50" y2="112.3" stroke="#111" stroke-width="1.3"/>
<line x1="322.90" y1="107.7" x2="322.90" y2="112.3" stroke="#111" stroke-width="1.3"/>
<line x1="341.90" y1="107.7" x2="341.90" y2="112.3" stroke="#111" stroke-width="1.3"/>
<line x1="363.60" y1="107.7" x2="363.60" y2="112.3" stroke="#111" stroke-width="1.3"/>
<line x1="383.90" y1="107.7" x2="383.90" y2="112.3" stroke="#111" stroke-width="1.3"/>
<line x1="306.90" y1="107.7" x2="306.90" y2="110.3" stroke="#111" stroke-width="1.05"/>
<line x1="310.40" y1="107.7" x2="310.40" y2="110.3" stroke="#111" stroke-width="1.05"/>
<line x1="317.10" y1="107.7" x2="317.10" y2="110.3" stroke="#111" stroke-width="1.05"/>
<line x1="318.50" y1="107.7" x2="318.50" y2="110.3" stroke="#111" stroke-width="1.05"/>
<line x1="319.80" y1="107.7" x2="319.80" y2="110.3" stroke="#111" stroke-width="1.05"/>
<line x1="321.30" y1="107.7" x2="321.30" y2="110.3" stroke="#111" stroke-width="1.05"/>
<line x1="322.60" y1="107.7" x2="322.60" y2="110.3" stroke="#111" stroke-width="1.05"/>
<line x1="328.62" y1="107.7" x2="328.62" y2="110.3" stroke="#111" stroke-width="1.05"/>
<line x1="331.97" y1="107.7" x2="331.97" y2="110.3" stroke="#111" stroke-width="1.05"/>
<line x1="334.34" y1="107.7" x2="334.34" y2="110.3" stroke="#111" stroke-width="1.05"/>
<line x1="336.18" y1="107.7" x2="336.18" y2="110.3" stroke="#111" stroke-width="1.05"/>
<line x1="337.68" y1="107.7" x2="337.68" y2="110.3" stroke="#111" stroke-width="1.05"/>
<line x1="338.96" y1="107.7" x2="338.96" y2="110.3" stroke="#111" stroke-width="1.05"/>
<line x1="340.06" y1="107.7" x2="340.06" y2="110.3" stroke="#111" stroke-width="1.05"/>
<line x1="341.03" y1="107.7" x2="341.03" y2="110.3" stroke="#111" stroke-width="1.05"/>
<line x1="348.43" y1="107.7" x2="348.43" y2="110.3" stroke="#111" stroke-width="1.05"/>
<line x1="352.25" y1="107.7" x2="352.25" y2="110.3" stroke="#111" stroke-width="1.05"/>
<line x1="354.96" y1="107.7" x2="354.96" y2="110.3" stroke="#111" stroke-width="1.05"/>
<line x1="357.07" y1="107.7" x2="357.07" y2="110.3" stroke="#111" stroke-width="1.05"/>
<line x1="358.79" y1="107.7" x2="358.79" y2="110.3" stroke="#111" stroke-width="1.05"/>
<line x1="360.24" y1="107.7" x2="360.24" y2="110.3" stroke="#111" stroke-width="1.05"/>
<line x1="361.50" y1="107.7" x2="361.50" y2="110.3" stroke="#111" stroke-width="1.05"/>
<line x1="362.61" y1="107.7" x2="362.61" y2="110.3" stroke="#111" stroke-width="1.05"/>
<line x1="369.71" y1="107.7" x2="369.71" y2="110.3" stroke="#111" stroke-width="1.05"/>
<line x1="373.29" y1="107.7" x2="373.29" y2="110.3" stroke="#111" stroke-width="1.05"/>
<line x1="375.82" y1="107.7" x2="375.82" y2="110.3" stroke="#111" stroke-width="1.05"/>
<line x1="377.79" y1="107.7" x2="377.79" y2="110.3" stroke="#111" stroke-width="1.05"/>
<line x1="379.40" y1="107.7" x2="379.40" y2="110.3" stroke="#111" stroke-width="1.05"/>
<line x1="380.76" y1="107.7" x2="380.76" y2="110.3" stroke="#111" stroke-width="1.05"/>
<line x1="381.93" y1="107.7" x2="381.93" y2="110.3" stroke="#111" stroke-width="1.05"/>
<line x1="382.97" y1="107.7" x2="382.97" y2="110.3" stroke="#111" stroke-width="1.05"/>
<text x="337.16" y="39.39" font-size="10.60" textLength="39.79" lengthAdjust="spacingAndGlyphs">LT-HSC</text>
<path d="M309.00,233.50 C309.67,233.35 311.82,233.08 313.00,232.60 C314.18,232.12 315.33,231.42 316.10,230.60 C316.87,229.78 317.20,229.80 317.60,227.70 C318.00,225.60 318.22,221.22 318.50,218.00 C318.78,214.78 319.05,211.62 319.30,208.40 C319.55,205.18 319.80,201.85 320.00,198.70 C320.20,195.55 320.35,192.00 320.50,189.50 C320.65,187.00 320.72,186.28 320.90,183.70 C321.08,181.12 321.35,177.22 321.60,174.00 C321.85,170.78 322.10,167.62 322.40,164.40 C322.70,161.18 323.05,157.05 323.40,154.70 C323.75,152.35 324.05,150.30 324.50,150.30 C324.95,150.30 325.70,152.35 326.10,154.70 C326.50,157.05 326.68,161.18 326.90,164.40 C327.12,167.62 327.22,170.78 327.40,174.00 C327.58,177.22 327.83,181.12 328.00,183.70 C328.17,186.28 328.17,187.00 328.40,189.50 C328.63,192.00 329.03,195.55 329.40,198.70 C329.77,201.85 330.15,205.18 330.60,208.40 C331.05,211.62 331.62,214.78 332.10,218.00 C332.58,221.22 332.87,225.43 333.50,227.70 C334.13,229.97 335.15,230.75 335.90,231.60 C336.65,232.45 337.15,232.48 338.00,232.80 C338.85,233.12 340.50,233.38 341.00,233.50 Z" fill="#c6c8dd" stroke="none"/>
<path d="M309.00,233.50 C309.67,233.35 311.82,233.08 313.00,232.60 C314.18,232.12 315.33,231.42 316.10,230.60 C316.87,229.78 317.20,229.80 317.60,227.70 C318.00,225.60 318.22,221.22 318.50,218.00 C318.78,214.78 319.05,211.62 319.30,208.40 C319.55,205.18 319.80,201.85 320.00,198.70 C320.20,195.55 320.35,192.00 320.50,189.50 C320.65,187.00 320.72,186.28 320.90,183.70 C321.08,181.12 321.35,177.22 321.60,174.00 C321.85,170.78 322.10,167.62 322.40,164.40 C322.70,161.18 323.05,157.05 323.40,154.70 C323.75,152.35 324.05,150.30 324.50,150.30 C324.95,150.30 325.70,152.35 326.10,154.70 C326.50,157.05 326.68,161.18 326.90,164.40 C327.12,167.62 327.22,170.78 327.40,174.00 C327.58,177.22 327.83,181.12 328.00,183.70 C328.17,186.28 328.17,187.00 328.40,189.50 C328.63,192.00 329.03,195.55 329.40,198.70 C329.77,201.85 330.15,205.18 330.60,208.40 C331.05,211.62 331.62,214.78 332.10,218.00 C332.58,221.22 332.87,225.43 333.50,227.70 C334.13,229.97 335.15,230.75 335.90,231.60 C336.65,232.45 337.15,232.48 338.00,232.80 C338.85,233.12 340.50,233.38 341.00,233.50" fill="none" stroke="#364268" stroke-width="1.35" stroke-linejoin="round"/>
<path d="M308.00,233.50 C308.95,233.42 312.27,233.32 313.70,233.00 C315.13,232.68 315.43,232.48 316.60,231.60 C317.77,230.72 319.70,229.97 320.70,227.70 C321.70,225.43 322.00,221.22 322.60,218.00 C323.20,214.78 323.72,211.62 324.30,208.40 C324.88,205.18 325.73,201.85 326.10,198.70 C326.47,195.55 326.40,192.00 326.50,189.50 C326.60,187.00 326.58,186.28 326.70,183.70 C326.82,181.12 327.03,177.22 327.20,174.00 C327.37,170.78 327.53,167.62 327.70,164.40 C327.87,161.18 327.98,157.05 328.20,154.70 C328.42,152.35 328.52,150.70 329.00,150.30 C329.48,149.90 330.67,151.57 331.10,152.30 C331.53,153.03 331.40,152.68 331.60,154.70 C331.80,156.72 332.07,161.18 332.30,164.40 C332.53,167.62 332.68,172.07 333.00,174.00 C333.32,175.93 333.95,174.38 334.20,176.00 C334.45,177.62 334.33,181.45 334.50,183.70 C334.67,185.95 335.03,187.00 335.20,189.50 C335.37,192.00 335.30,195.55 335.50,198.70 C335.70,201.85 336.00,205.18 336.40,208.40 C336.80,211.62 337.37,214.78 337.90,218.00 C338.43,221.22 339.03,225.43 339.60,227.70 C340.17,229.97 340.73,230.68 341.30,231.60 C341.87,232.52 342.22,232.88 343.00,233.20 C343.78,233.52 345.50,233.45 346.00,233.50" fill="none" stroke="#9c1642" stroke-width="1.4" stroke-linejoin="round"/>
<path d="M304.3,233.5 V145.5 H392.2 V233.5" fill="none" stroke="#111" stroke-width="1.3"/>
<line x1="304.3" y1="233.5" x2="392.2" y2="233.5" stroke="#4a1024" stroke-width="1.6"/>
<line x1="299.7" y1="149.70" x2="304.3" y2="149.70" stroke="#111" stroke-width="1.3"/>
<line x1="302.1" y1="153.89" x2="304.3" y2="153.89" stroke="#111" stroke-width="1.1"/>
<line x1="302.1" y1="158.08" x2="304.3" y2="158.08" stroke="#111" stroke-width="1.1"/>
<line x1="302.1" y1="162.27" x2="304.3" y2="162.27" stroke="#111" stroke-width="1.1"/>
<line x1="299.7" y1="166.46" x2="304.3" y2="166.46" stroke="#111" stroke-width="1.3"/>
<line x1="302.1" y1="170.65" x2="304.3" y2="170.65" stroke="#111" stroke-width="1.1"/>
<line x1="302.1" y1="174.84" x2="304.3" y2="174.84" stroke="#111" stroke-width="1.1"/>
<line x1="302.1" y1="179.03" x2="304.3" y2="179.03" stroke="#111" stroke-width="1.1"/>
<line x1="299.7" y1="183.22" x2="304.3" y2="183.22" stroke="#111" stroke-width="1.3"/>
<line x1="302.1" y1="187.41" x2="304.3" y2="187.41" stroke="#111" stroke-width="1.1"/>
<line x1="302.1" y1="191.60" x2="304.3" y2="191.60" stroke="#111" stroke-width="1.1"/>
<line x1="302.1" y1="195.79" x2="304.3" y2="195.79" stroke="#111" stroke-width="1.1"/>
<line x1="299.7" y1="199.98" x2="304.3" y2="199.98" stroke="#111" stroke-width="1.3"/>
<line x1="302.1" y1="204.17" x2="304.3" y2="204.17" stroke="#111" stroke-width="1.1"/>
<line x1="302.1" y1="208.36" x2="304.3" y2="208.36" stroke="#111" stroke-width="1.1"/>
<line x1="302.1" y1="212.55" x2="304.3" y2="212.55" stroke="#111" stroke-width="1.1"/>
<line x1="299.7" y1="216.74" x2="304.3" y2="216.74" stroke="#111" stroke-width="1.3"/>
<line x1="302.1" y1="220.93" x2="304.3" y2="220.93" stroke="#111" stroke-width="1.1"/>
<line x1="302.1" y1="225.12" x2="304.3" y2="225.12" stroke="#111" stroke-width="1.1"/>
<line x1="302.1" y1="229.31" x2="304.3" y2="229.31" stroke="#111" stroke-width="1.1"/>
<line x1="299.7" y1="233.50" x2="304.3" y2="233.50" stroke="#111" stroke-width="1.3"/>
<line x1="314.50" y1="233.5" x2="314.50" y2="238.1" stroke="#111" stroke-width="1.3"/>
<line x1="322.90" y1="233.5" x2="322.90" y2="238.1" stroke="#111" stroke-width="1.3"/>
<line x1="341.90" y1="233.5" x2="341.90" y2="238.1" stroke="#111" stroke-width="1.3"/>
<line x1="363.60" y1="233.5" x2="363.60" y2="238.1" stroke="#111" stroke-width="1.3"/>
<line x1="383.90" y1="233.5" x2="383.90" y2="238.1" stroke="#111" stroke-width="1.3"/>
<line x1="306.90" y1="233.5" x2="306.90" y2="236.1" stroke="#111" stroke-width="1.05"/>
<line x1="310.40" y1="233.5" x2="310.40" y2="236.1" stroke="#111" stroke-width="1.05"/>
<line x1="317.10" y1="233.5" x2="317.10" y2="236.1" stroke="#111" stroke-width="1.05"/>
<line x1="318.50" y1="233.5" x2="318.50" y2="236.1" stroke="#111" stroke-width="1.05"/>
<line x1="319.80" y1="233.5" x2="319.80" y2="236.1" stroke="#111" stroke-width="1.05"/>
<line x1="321.30" y1="233.5" x2="321.30" y2="236.1" stroke="#111" stroke-width="1.05"/>
<line x1="322.60" y1="233.5" x2="322.60" y2="236.1" stroke="#111" stroke-width="1.05"/>
<line x1="328.62" y1="233.5" x2="328.62" y2="236.1" stroke="#111" stroke-width="1.05"/>
<line x1="331.97" y1="233.5" x2="331.97" y2="236.1" stroke="#111" stroke-width="1.05"/>
<line x1="334.34" y1="233.5" x2="334.34" y2="236.1" stroke="#111" stroke-width="1.05"/>
<line x1="336.18" y1="233.5" x2="336.18" y2="236.1" stroke="#111" stroke-width="1.05"/>
<line x1="337.68" y1="233.5" x2="337.68" y2="236.1" stroke="#111" stroke-width="1.05"/>
<line x1="338.96" y1="233.5" x2="338.96" y2="236.1" stroke="#111" stroke-width="1.05"/>
<line x1="340.06" y1="233.5" x2="340.06" y2="236.1" stroke="#111" stroke-width="1.05"/>
<line x1="341.03" y1="233.5" x2="341.03" y2="236.1" stroke="#111" stroke-width="1.05"/>
<line x1="348.43" y1="233.5" x2="348.43" y2="236.1" stroke="#111" stroke-width="1.05"/>
<line x1="352.25" y1="233.5" x2="352.25" y2="236.1" stroke="#111" stroke-width="1.05"/>
<line x1="354.96" y1="233.5" x2="354.96" y2="236.1" stroke="#111" stroke-width="1.05"/>
<line x1="357.07" y1="233.5" x2="357.07" y2="236.1" stroke="#111" stroke-width="1.05"/>
<line x1="358.79" y1="233.5" x2="358.79" y2="236.1" stroke="#111" stroke-width="1.05"/>
<line x1="360.24" y1="233.5" x2="360.24" y2="236.1" stroke="#111" stroke-width="1.05"/>
<line x1="361.50" y1="233.5" x2="361.50" y2="236.1" stroke="#111" stroke-width="1.05"/>
<line x1="362.61" y1="233.5" x2="362.61" y2="236.1" stroke="#111" stroke-width="1.05"/>
<line x1="369.71" y1="233.5" x2="369.71" y2="236.1" stroke="#111" stroke-width="1.05"/>
<line x1="373.29" y1="233.5" x2="373.29" y2="236.1" stroke="#111" stroke-width="1.05"/>
<line x1="375.82" y1="233.5" x2="375.82" y2="236.1" stroke="#111" stroke-width="1.05"/>
<line x1="377.79" y1="233.5" x2="377.79" y2="236.1" stroke="#111" stroke-width="1.05"/>
<line x1="379.40" y1="233.5" x2="379.40" y2="236.1" stroke="#111" stroke-width="1.05"/>
<line x1="380.76" y1="233.5" x2="380.76" y2="236.1" stroke="#111" stroke-width="1.05"/>
<line x1="381.93" y1="233.5" x2="381.93" y2="236.1" stroke="#111" stroke-width="1.05"/>
<line x1="382.97" y1="233.5" x2="382.97" y2="236.1" stroke="#111" stroke-width="1.05"/>
<text x="337.79" y="161.20" font-size="10.18" textLength="41.46" lengthAdjust="spacingAndGlyphs">ST-HSC</text>
<path d="M412.00,233.50 C412.87,233.25 416.07,232.97 417.20,232.00 C418.33,231.03 418.23,230.03 418.80,227.70 C419.37,225.37 420.12,221.22 420.60,218.00 C421.08,214.78 421.38,211.62 421.70,208.40 C422.02,205.18 422.23,201.85 422.50,198.70 C422.77,195.55 423.10,192.00 423.30,189.50 C423.50,187.00 423.55,186.28 423.70,183.70 C423.85,181.12 424.03,177.22 424.20,174.00 C424.37,170.78 424.42,167.62 424.70,164.40 C424.98,161.18 425.43,157.05 425.90,154.70 C426.37,152.35 427.02,150.30 427.50,150.30 C427.98,150.30 428.47,152.35 428.80,154.70 C429.13,157.05 429.18,161.67 429.50,164.40 C429.82,167.13 430.47,169.50 430.70,171.10 C430.93,172.70 430.78,171.90 430.90,174.00 C431.02,176.10 431.18,181.12 431.40,183.70 C431.62,186.28 431.95,187.00 432.20,189.50 C432.45,192.00 432.62,195.55 432.90,198.70 C433.18,201.85 433.53,205.18 433.90,208.40 C434.27,211.62 434.58,214.78 435.10,218.00 C435.62,221.22 436.20,225.43 437.00,227.70 C437.80,229.97 438.90,230.78 439.90,231.60 C440.90,232.42 441.98,232.28 443.00,232.60 C444.02,232.92 445.50,233.35 446.00,233.50 Z" fill="#c6c8dd" stroke="none"/>
<path d="M412.00,233.50 C412.87,233.25 416.07,232.97 417.20,232.00 C418.33,231.03 418.23,230.03 418.80,227.70 C419.37,225.37 420.12,221.22 420.60,218.00 C421.08,214.78 421.38,211.62 421.70,208.40 C422.02,205.18 422.23,201.85 422.50,198.70 C422.77,195.55 423.10,192.00 423.30,189.50 C423.50,187.00 423.55,186.28 423.70,183.70 C423.85,181.12 424.03,177.22 424.20,174.00 C424.37,170.78 424.42,167.62 424.70,164.40 C424.98,161.18 425.43,157.05 425.90,154.70 C426.37,152.35 427.02,150.30 427.50,150.30 C427.98,150.30 428.47,152.35 428.80,154.70 C429.13,157.05 429.18,161.67 429.50,164.40 C429.82,167.13 430.47,169.50 430.70,171.10 C430.93,172.70 430.78,171.90 430.90,174.00 C431.02,176.10 431.18,181.12 431.40,183.70 C431.62,186.28 431.95,187.00 432.20,189.50 C432.45,192.00 432.62,195.55 432.90,198.70 C433.18,201.85 433.53,205.18 433.90,208.40 C434.27,211.62 434.58,214.78 435.10,218.00 C435.62,221.22 436.20,225.43 437.00,227.70 C437.80,229.97 438.90,230.78 439.90,231.60 C440.90,232.42 441.98,232.28 443.00,232.60 C444.02,232.92 445.50,233.35 446.00,233.50" fill="none" stroke="#364268" stroke-width="1.35" stroke-linejoin="round"/>
<path d="M414.00,233.50 C415.42,233.18 420.52,232.57 422.50,231.60 C424.48,230.63 424.93,229.97 425.90,227.70 C426.87,225.43 427.58,221.22 428.30,218.00 C429.02,214.78 429.63,211.62 430.20,208.40 C430.77,205.18 431.37,201.85 431.70,198.70 C432.03,195.55 432.08,192.00 432.20,189.50 C432.32,187.00 432.25,186.28 432.40,183.70 C432.55,181.12 432.73,177.22 433.10,174.00 C433.47,170.78 434.27,166.33 434.60,164.40 C434.93,162.47 434.78,164.02 435.10,162.40 C435.42,160.78 436.15,156.63 436.50,154.70 C436.85,152.77 436.87,150.80 437.20,150.80 C437.53,150.80 438.13,152.43 438.50,154.70 C438.87,156.97 439.08,161.18 439.40,164.40 C439.72,167.62 440.07,170.78 440.40,174.00 C440.73,177.22 441.13,181.12 441.40,183.70 C441.67,186.28 441.80,187.00 442.00,189.50 C442.20,192.00 442.38,195.55 442.60,198.70 C442.82,201.85 443.02,205.18 443.30,208.40 C443.58,211.62 443.90,214.78 444.30,218.00 C444.70,221.22 445.13,225.43 445.70,227.70 C446.27,229.97 446.65,230.63 447.70,231.60 C448.75,232.57 451.28,233.18 452.00,233.50" fill="none" stroke="#9c1642" stroke-width="1.4" stroke-linejoin="round"/>
<path d="M407.4,233.5 V145.6 H496.3 V233.5" fill="none" stroke="#111" stroke-width="1.3"/>
<line x1="407.4" y1="233.5" x2="496.3" y2="233.5" stroke="#4a1024" stroke-width="1.6"/>
<line x1="402.79999999999995" y1="149.80" x2="407.4" y2="149.80" stroke="#111" stroke-width="1.3"/>
<line x1="405.2" y1="153.98" x2="407.4" y2="153.98" stroke="#111" stroke-width="1.1"/>
<line x1="405.2" y1="158.17" x2="407.4" y2="158.17" stroke="#111" stroke-width="1.1"/>
<line x1="405.2" y1="162.35" x2="407.4" y2="162.35" stroke="#111" stroke-width="1.1"/>
<line x1="402.79999999999995" y1="166.54" x2="407.4" y2="166.54" stroke="#111" stroke-width="1.3"/>
<line x1="405.2" y1="170.72" x2="407.4" y2="170.72" stroke="#111" stroke-width="1.1"/>
<line x1="405.2" y1="174.91" x2="407.4" y2="174.91" stroke="#111" stroke-width="1.1"/>
<line x1="405.2" y1="179.09" x2="407.4" y2="179.09" stroke="#111" stroke-width="1.1"/>
<line x1="402.79999999999995" y1="183.28" x2="407.4" y2="183.28" stroke="#111" stroke-width="1.3"/>
<line x1="405.2" y1="187.46" x2="407.4" y2="187.46" stroke="#111" stroke-width="1.1"/>
<line x1="405.2" y1="191.65" x2="407.4" y2="191.65" stroke="#111" stroke-width="1.1"/>
<line x1="405.2" y1="195.83" x2="407.4" y2="195.83" stroke="#111" stroke-width="1.1"/>
<line x1="402.79999999999995" y1="200.02" x2="407.4" y2="200.02" stroke="#111" stroke-width="1.3"/>
<line x1="405.2" y1="204.20" x2="407.4" y2="204.20" stroke="#111" stroke-width="1.1"/>
<line x1="405.2" y1="208.39" x2="407.4" y2="208.39" stroke="#111" stroke-width="1.1"/>
<line x1="405.2" y1="212.57" x2="407.4" y2="212.57" stroke="#111" stroke-width="1.1"/>
<line x1="402.79999999999995" y1="216.76" x2="407.4" y2="216.76" stroke="#111" stroke-width="1.3"/>
<line x1="405.2" y1="220.94" x2="407.4" y2="220.94" stroke="#111" stroke-width="1.1"/>
<line x1="405.2" y1="225.13" x2="407.4" y2="225.13" stroke="#111" stroke-width="1.1"/>
<line x1="405.2" y1="229.31" x2="407.4" y2="229.31" stroke="#111" stroke-width="1.1"/>
<line x1="402.79999999999995" y1="233.50" x2="407.4" y2="233.50" stroke="#111" stroke-width="1.3"/>
<line x1="417.60" y1="233.5" x2="417.60" y2="238.1" stroke="#111" stroke-width="1.3"/>
<line x1="426.00" y1="233.5" x2="426.00" y2="238.1" stroke="#111" stroke-width="1.3"/>
<line x1="445.00" y1="233.5" x2="445.00" y2="238.1" stroke="#111" stroke-width="1.3"/>
<line x1="466.70" y1="233.5" x2="466.70" y2="238.1" stroke="#111" stroke-width="1.3"/>
<line x1="487.00" y1="233.5" x2="487.00" y2="238.1" stroke="#111" stroke-width="1.3"/>
<line x1="410.00" y1="233.5" x2="410.00" y2="236.1" stroke="#111" stroke-width="1.05"/>
<line x1="413.50" y1="233.5" x2="413.50" y2="236.1" stroke="#111" stroke-width="1.05"/>
<line x1="420.20" y1="233.5" x2="420.20" y2="236.1" stroke="#111" stroke-width="1.05"/>
<line x1="421.60" y1="233.5" x2="421.60" y2="236.1" stroke="#111" stroke-width="1.05"/>
<line x1="422.90" y1="233.5" x2="422.90" y2="236.1" stroke="#111" stroke-width="1.05"/>
<line x1="424.40" y1="233.5" x2="424.40" y2="236.1" stroke="#111" stroke-width="1.05"/>
<line x1="425.70" y1="233.5" x2="425.70" y2="236.1" stroke="#111" stroke-width="1.05"/>
<line x1="431.72" y1="233.5" x2="431.72" y2="236.1" stroke="#111" stroke-width="1.05"/>
<line x1="435.07" y1="233.5" x2="435.07" y2="236.1" stroke="#111" stroke-width="1.05"/>
<line x1="437.44" y1="233.5" x2="437.44" y2="236.1" stroke="#111" stroke-width="1.05"/>
<line x1="439.28" y1="233.5" x2="439.28" y2="236.1" stroke="#111" stroke-width="1.05"/>
<line x1="440.78" y1="233.5" x2="440.78" y2="236.1" stroke="#111" stroke-width="1.05"/>
<line x1="442.06" y1="233.5" x2="442.06" y2="236.1" stroke="#111" stroke-width="1.05"/>
<line x1="443.16" y1="233.5" x2="443.16" y2="236.1" stroke="#111" stroke-width="1.05"/>
<line x1="444.13" y1="233.5" x2="444.13" y2="236.1" stroke="#111" stroke-width="1.05"/>
<line x1="451.53" y1="233.5" x2="451.53" y2="236.1" stroke="#111" stroke-width="1.05"/>
<line x1="455.35" y1="233.5" x2="455.35" y2="236.1" stroke="#111" stroke-width="1.05"/>
<line x1="458.06" y1="233.5" x2="458.06" y2="236.1" stroke="#111" stroke-width="1.05"/>
<line x1="460.17" y1="233.5" x2="460.17" y2="236.1" stroke="#111" stroke-width="1.05"/>
<line x1="461.89" y1="233.5" x2="461.89" y2="236.1" stroke="#111" stroke-width="1.05"/>
<line x1="463.34" y1="233.5" x2="463.34" y2="236.1" stroke="#111" stroke-width="1.05"/>
<line x1="464.60" y1="233.5" x2="464.60" y2="236.1" stroke="#111" stroke-width="1.05"/>
<line x1="465.71" y1="233.5" x2="465.71" y2="236.1" stroke="#111" stroke-width="1.05"/>
<line x1="472.81" y1="233.5" x2="472.81" y2="236.1" stroke="#111" stroke-width="1.05"/>
<line x1="476.39" y1="233.5" x2="476.39" y2="236.1" stroke="#111" stroke-width="1.05"/>
<line x1="478.92" y1="233.5" x2="478.92" y2="236.1" stroke="#111" stroke-width="1.05"/>
<line x1="480.89" y1="233.5" x2="480.89" y2="236.1" stroke="#111" stroke-width="1.05"/>
<line x1="482.50" y1="233.5" x2="482.50" y2="236.1" stroke="#111" stroke-width="1.05"/>
<line x1="483.86" y1="233.5" x2="483.86" y2="236.1" stroke="#111" stroke-width="1.05"/>
<line x1="485.03" y1="233.5" x2="485.03" y2="236.1" stroke="#111" stroke-width="1.05"/>
<line x1="486.07" y1="233.5" x2="486.07" y2="236.1" stroke="#111" stroke-width="1.05"/>
<text x="456.07" y="161.40" font-size="11.35" textLength="24.42" lengthAdjust="spacingAndGlyphs">MPP</text>
<rect x="195.8" y="56" width="68.2" height="29" fill="#fff" stroke="#1a1a1a" stroke-width="1.4"/>
<line x1="199.3" y1="62.3" x2="218.8" y2="62.3" stroke="#8e1f45" stroke-width="1.6"/>
<rect x="199.60000000000002" y="71.3" width="19" height="8.6" fill="#c6c8dd" stroke="#4a4e6a" stroke-width="1.1"/>
<text x="223.35" y="67.00" font-size="10.76" textLength="15.27" lengthAdjust="spacingAndGlyphs">WT</text>
<text x="223.11" y="78.80" font-size="10.32" textLength="29.47" lengthAdjust="spacingAndGlyphs">BCAP</text>
<text x="253.87" y="74.13" font-size="6.67" textLength="6.86" lengthAdjust="spacingAndGlyphs">-/-</text>
<rect x="415.4" y="56" width="68.2" height="29" fill="#fff" stroke="#1a1a1a" stroke-width="1.4"/>
<line x1="418.9" y1="62.3" x2="438.4" y2="62.3" stroke="#8e1f45" stroke-width="1.6"/>
<rect x="419.2" y="71.3" width="19" height="8.6" fill="#c6c8dd" stroke="#4a4e6a" stroke-width="1.1"/>
<text x="442.95" y="67.00" font-size="10.76" textLength="15.27" lengthAdjust="spacingAndGlyphs">WT</text>
<text x="442.71" y="78.80" font-size="10.32" textLength="29.47" lengthAdjust="spacingAndGlyphs">BCAP</text>
<text x="473.47" y="74.13" font-size="6.67" textLength="6.86" lengthAdjust="spacingAndGlyphs">-/-</text>
<text x="46.37" y="130.36" font-size="14.42" textLength="30.84" lengthAdjust="spacingAndGlyphs">BCAP</text>
<line x1="82.3" y1="126" x2="226" y2="126" stroke="#000" stroke-width="2"/>
<path d="M235,126 L222.5,121 L225.5,126 L222.5,131 Z" fill="#000"/>
<text x="47.48" y="256.46" font-size="13.85" textLength="30.20" lengthAdjust="spacingAndGlyphs">BCAP</text>
<line x1="83.8" y1="252.2" x2="227" y2="252.2" stroke="#000" stroke-width="2"/>
<path d="M236,252.2 L223.5,247.2 L226.5,252.2 L223.5,257.2 Z" fill="#000"/>
<text x="309.43" y="130.36" font-size="13.85" textLength="32.10" lengthAdjust="spacingAndGlyphs">BCAP</text>
<line x1="346" y1="126" x2="391.5" y2="126" stroke="#000" stroke-width="2"/>
<path d="M400.5,126 L388.0,121 L391.0,126 L388.0,131 Z" fill="#000"/>
<text x="309.03" y="256.46" font-size="13.71" textLength="31.99" lengthAdjust="spacingAndGlyphs">BCAP</text>
<line x1="345.2" y1="252.0" x2="491.5" y2="252.0" stroke="#000" stroke-width="2"/>
<path d="M500.5,252.0 L488.0,247.0 L491.0,252.0 L488.0,257.0 Z" fill="#000"/>
<line x1="62" y1="304.5" x2="62" y2="434.3" stroke="#000" stroke-width="1.6"/>
<line x1="57" y1="308.95" x2="62" y2="308.95" stroke="#000" stroke-width="1.5"/>
<line x1="57" y1="344.50" x2="62" y2="344.50" stroke="#000" stroke-width="1.5"/>
<line x1="57" y1="380.05" x2="62" y2="380.05" stroke="#000" stroke-width="1.5"/>
<line x1="57" y1="415.60" x2="62" y2="415.60" stroke="#000" stroke-width="1.5"/>
<text x="32.52" y="312.79" font-size="10.74" textLength="19.43" lengthAdjust="spacingAndGlyphs">600</text>
<text x="32.84" y="348.29" font-size="10.74" textLength="19.10" lengthAdjust="spacingAndGlyphs">400</text>
<text x="32.81" y="384.09" font-size="10.74" textLength="19.64" lengthAdjust="spacingAndGlyphs">200</text>
<text x="46.26" y="419.49" font-size="10.74" textLength="6.17" lengthAdjust="spacingAndGlyphs">0</text>
<rect x="67.2" y="345.39" width="26.40" height="70.21" fill="#a6002a"/>
<line x1="80.40" y1="345.39" x2="80.40" y2="335.61" stroke="#000" stroke-width="1.5"/>
<line x1="73.90" y1="335.61" x2="86.90" y2="335.61" stroke="#000" stroke-width="1.5"/>
<rect x="104.5" y="381.29" width="26.20" height="34.31" fill="#2f4e7c"/>
<line x1="117.60" y1="381.29" x2="117.60" y2="373.47" stroke="#000" stroke-width="1.5"/>
<line x1="111.10" y1="373.47" x2="124.10" y2="373.47" stroke="#000" stroke-width="1.5"/>
<rect x="141.6" y="379.34" width="26.20" height="36.26" fill="#69a944"/>
<line x1="154.70" y1="379.34" x2="154.70" y2="371.87" stroke="#000" stroke-width="1.5"/>
<line x1="148.20" y1="371.87" x2="161.20" y2="371.87" stroke="#000" stroke-width="1.5"/>
<rect x="178.8" y="415.60" width="26.40" height="14.75" fill="#572671"/>
<line x1="192.00" y1="430.35" x2="192.00" y2="432.49" stroke="#000" stroke-width="1.5"/>
<line x1="185.50" y1="432.49" x2="198.50" y2="432.49" stroke="#000" stroke-width="1.5"/>
<rect x="216.3" y="365.65" width="26.10" height="49.95" fill="#db8a16"/>
<line x1="229.35" y1="365.65" x2="229.35" y2="351.43" stroke="#000" stroke-width="1.5"/>
<line x1="222.85" y1="351.43" x2="235.85" y2="351.43" stroke="#000" stroke-width="1.5"/>
<line x1="62" y1="415.60" x2="248" y2="415.60" stroke="#000" stroke-width="1.8"/>
<line x1="61.2" y1="433.5" x2="248" y2="433.5" stroke="#000" stroke-width="1.6"/>
<line x1="80.40" y1="433.5" x2="80.40" y2="437.6" stroke="#000" stroke-width="1.5"/>
<line x1="117.60" y1="433.5" x2="117.60" y2="437.6" stroke="#000" stroke-width="1.5"/>
<line x1="154.70" y1="433.5" x2="154.70" y2="437.6" stroke="#000" stroke-width="1.5"/>
<line x1="192.00" y1="433.5" x2="192.00" y2="437.6" stroke="#000" stroke-width="1.5"/>
<line x1="229.35" y1="433.5" x2="229.35" y2="437.6" stroke="#000" stroke-width="1.5"/>
<text x="68.64" y="452.99" font-size="10.60" textLength="21.90" lengthAdjust="spacingAndGlyphs">LSK</text>
<text x="104.01" y="453.09" font-size="11.02" textLength="26.41" lengthAdjust="spacingAndGlyphs">CMP</text>
<text x="141.61" y="453.09" font-size="11.02" textLength="26.81" lengthAdjust="spacingAndGlyphs">GMP</text>
<text x="178.70" y="453.00" font-size="10.76" textLength="26.23" lengthAdjust="spacingAndGlyphs">MEP</text>
<text x="218.63" y="453.00" font-size="10.48" textLength="15.65" lengthAdjust="spacingAndGlyphs">Lin</text>
<text x="235.45" y="449.07" font-size="6.53" textLength="4.09" lengthAdjust="spacingAndGlyphs">+</text>
<text transform="translate(20.70,384.48) rotate(-90)" font-size="10.62" textLength="30.46" lengthAdjust="spacingAndGlyphs">&#916;MFI</text>
<line x1="328" y1="318.6" x2="328" y2="433.8" stroke="#000" stroke-width="1.6"/>
<line x1="323.6" y1="322.75" x2="328" y2="322.75" stroke="#000" stroke-width="1.5"/>
<text x="299.33" y="326.44" font-size="10.74" textLength="19.52" lengthAdjust="spacingAndGlyphs">500</text>
<line x1="323.6" y1="344.80" x2="328" y2="344.80" stroke="#000" stroke-width="1.5"/>
<text x="299.54" y="348.49" font-size="10.74" textLength="19.31" lengthAdjust="spacingAndGlyphs">400</text>
<line x1="323.6" y1="366.85" x2="328" y2="366.85" stroke="#000" stroke-width="1.5"/>
<text x="299.36" y="370.54" font-size="10.74" textLength="19.49" lengthAdjust="spacingAndGlyphs">300</text>
<line x1="323.6" y1="388.90" x2="328" y2="388.90" stroke="#000" stroke-width="1.5"/>
<text x="299.21" y="392.59" font-size="10.74" textLength="19.64" lengthAdjust="spacingAndGlyphs">200</text>
<line x1="323.6" y1="410.95" x2="328" y2="410.95" stroke="#000" stroke-width="1.5"/>
<text x="298.90" y="414.64" font-size="10.74" textLength="19.96" lengthAdjust="spacingAndGlyphs">100</text>
<line x1="323.6" y1="433.00" x2="328" y2="433.00" stroke="#000" stroke-width="1.5"/>
<text x="313.21" y="436.69" font-size="10.74" textLength="5.36" lengthAdjust="spacingAndGlyphs">0</text>
<rect x="337.9" y="390.00" width="41.60" height="43.00" fill="#a6002a"/>
<line x1="358.70" y1="390.00" x2="358.70" y2="382.95" stroke="#000" stroke-width="1.5"/>
<line x1="348.70" y1="382.95" x2="368.70" y2="382.95" stroke="#000" stroke-width="1.5"/>
<rect x="398.4" y="387.58" width="41.50" height="45.42" fill="#2f4e7c"/>
<line x1="419.15" y1="387.58" x2="419.15" y2="382.06" stroke="#000" stroke-width="1.5"/>
<line x1="409.15" y1="382.06" x2="429.15" y2="382.06" stroke="#000" stroke-width="1.5"/>
<rect x="458.4" y="342.60" width="42.00" height="90.40" fill="#69a944"/>
<line x1="479.40" y1="342.60" x2="479.40" y2="329.59" stroke="#000" stroke-width="1.5"/>
<line x1="469.40" y1="329.59" x2="489.40" y2="329.59" stroke="#000" stroke-width="1.5"/>
<line x1="327.2" y1="433.4" x2="509.5" y2="433.4" stroke="#000" stroke-width="1.6"/>
<line x1="358.70" y1="433.4" x2="358.70" y2="437.8" stroke="#000" stroke-width="1.5"/>
<line x1="419.15" y1="433.4" x2="419.15" y2="437.8" stroke="#000" stroke-width="1.5"/>
<line x1="479.40" y1="433.4" x2="479.40" y2="437.8" stroke="#000" stroke-width="1.5"/>
<text x="336.26" y="452.40" font-size="10.32" textLength="43.84" lengthAdjust="spacingAndGlyphs">LT-HSC</text>
<text x="396.65" y="452.49" font-size="10.74" textLength="44.83" lengthAdjust="spacingAndGlyphs">ST-HSC</text>
<text x="466.00" y="452.40" font-size="10.47" textLength="26.23" lengthAdjust="spacingAndGlyphs">MPP</text>
<text transform="translate(289.50,392.48) rotate(-90)" font-size="10.91" textLength="30.35" lengthAdjust="spacingAndGlyphs">&#916;MFI</text>
<text x="11.60" y="23.20" font-size="16.58" textLength="11.64" lengthAdjust="spacingAndGlyphs" font-weight="bold">A</text>
<text x="280.66" y="22.94" font-size="16.25" textLength="11.58" lengthAdjust="spacingAndGlyphs" font-weight="bold">C</text>
<text x="11.32" y="293.90" font-size="17.02" textLength="11.60" lengthAdjust="spacingAndGlyphs" font-weight="bold">B</text>
<text x="280.29" y="293.90" font-size="16.00" textLength="11.91" lengthAdjust="spacingAndGlyphs" font-weight="bold">D</text>
<rect x="1" y="1" width="518" height="463" fill="none" stroke="#000" stroke-width="2"/>
</svg>
</body></html>
